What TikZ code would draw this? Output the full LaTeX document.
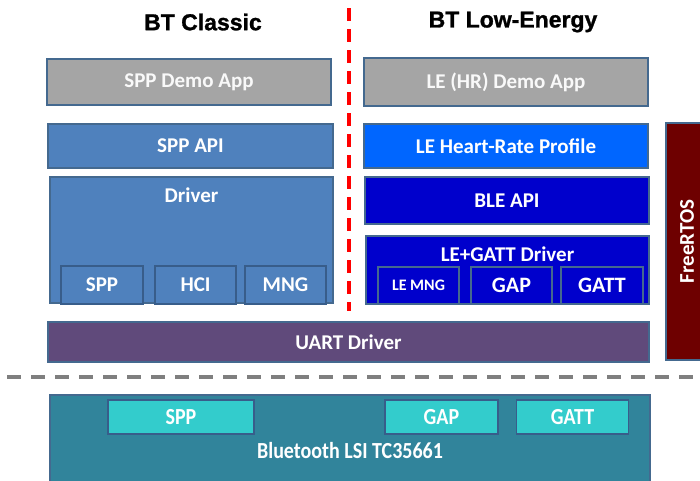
\documentclass[tikz,border=0pt]{standalone}
\usepackage{graphicx}
\usepackage{fontspec}
\setmainfont{Carlito}
\newfontfamily\titlefont{Liberation Sans}[BoldFeatures={FakeBold=1.2}]
\definecolor{bordc}{HTML}{44698F}
\definecolor{subbord}{HTML}{385D8A}
\definecolor{appgray}{HTML}{A5A5A5}
\definecolor{sppblue}{HTML}{4F81BD}
\definecolor{hrblue}{HTML}{0066FF}
\definecolor{bleblue}{HTML}{0000CC}
\definecolor{uartpurple}{HTML}{604A7B}
\definecolor{rtosred}{HTML}{6E0000}
\definecolor{lsiteal}{HTML}{31849B}
\definecolor{lsisub}{HTML}{33CCCC}
\definecolor{sepgray}{HTML}{7F7F7F}
\newcommand{\narrowtxt}[1]{\scalebox{0.87}[1]{#1}}
\begin{document}
\begin{tikzpicture}[x=1pt,y=-1pt,
  blk/.style={draw=bordc, line width=1.8pt, inner sep=0pt, text=white, font=\bfseries\fontsize{21}{23}\selectfont},
  subblk/.style={draw=subbord, line width=1.8pt, inner sep=0pt, text=white, font=\bfseries\fontsize{21}{23}\selectfont},
  ttl/.style={font=\titlefont\bfseries\fontsize{23}{25}\selectfont, text=black},
  lbl/.style={text=white, font=\bfseries\fontsize{21}{23}\selectfont, inner sep=0pt}
]
\useasboundingbox (0,0) rectangle (700,480);
% titles
\node[ttl] (t1) at (203,22) {BT Classic};
\node[ttl] (t2) at (513,22) {BT Low-Energy};
% separators
\coordinate (rtop) at (349,8);
\coordinate (rbot) at (349,311);
\draw[red, line width=3.5pt, dash pattern=on 13pt off 8pt] (rtop) -- (rbot);
\coordinate (gl) at (7,377);
\coordinate (gr) at (705,377);
\draw[sepgray, line width=4pt, dash pattern=on 14pt off 10pt] (gl) -- (gr);
% classic
\node[blk, fill=appgray, text=white!95!gray, minimum width=284pt, minimum height=46pt] (sppapp) at (189,82) {SPP Demo App};
\node[blk, fill=sppblue, minimum width=285pt, minimum height=44pt] (sppapi) at (190.5,146) {SPP API};
\node[blk, fill=sppblue, minimum width=283pt, minimum height=126pt] (drv) at (191.5,240) {};
\node[lbl] (drvl) at (191.5,195) {Driver};
\node[subblk, fill=sppblue, minimum width=82pt, minimum height=38pt] (dspp) at (102,285) {SPP};
\node[subblk, fill=sppblue, minimum width=81pt, minimum height=38pt] (dhci) at (195.5,285) {HCI};
\node[subblk, fill=sppblue, minimum width=81pt, minimum height=38pt] (dmng) at (285.5,285) {MNG};
% LE
\node[blk, fill=appgray, text=white!95!gray, minimum width=284pt, minimum height=48pt] (leapp) at (506,82) {LE (HR) Demo App};
\node[blk, fill=hrblue, minimum width=284pt, minimum height=44pt] (lehr) at (506,146) {LE Heart-Rate Profile};
\node[blk, fill=bleblue, minimum width=284pt, minimum height=47pt] (bleapi) at (507,200.5) {BLE API};
\node[blk, fill=bleblue, minimum width=283pt, minimum height=68pt] (legatt) at (507.5,270) {};
\node[lbl] (legattl) at (507.5,254) {LE+GATT Driver};
\node[subblk, draw=bordc, fill=bleblue, minimum width=81pt, minimum height=37pt, font=\bfseries\fontsize{16}{18}\selectfont] (lemng) at (418.5,285.5) {LE MNG};
\node[subblk, draw=bordc, fill=bleblue, minimum width=81pt, minimum height=37pt, font=\bfseries\fontsize{22}{24}\selectfont] (gap) at (511.5,285.5) {GAP};
\node[subblk, draw=bordc, fill=bleblue, minimum width=82pt, minimum height=37pt, font=\bfseries\fontsize{22}{24}\selectfont] (gatt) at (602,285.5) {GATT};
% UART
\node[blk, fill=uartpurple, minimum width=601pt, minimum height=40pt] (uart) at (348.5,342) {UART Driver};
% FreeRTOS
\node[blk, fill=rtosred, minimum width=44pt, minimum height=237pt] (rtos) at (688,241.5) {};
\node[lbl, rotate=90] (rtosl) at (687,241.5) {FreeRTOS};
% LSI
\node[blk, fill=lsiteal, minimum width=600pt, minimum height=110pt] (lsi) at (350,450) {};
\node[lbl, font=\bfseries\fontsize{23}{25}\selectfont] (lsil) at (350,451) {\narrowtxt{Bluetooth LSI TC35661}};
\node[subblk, fill=lsisub, minimum width=146pt, minimum height=34pt, font=\bfseries\fontsize{23}{25}\selectfont] (lspp) at (181,417) {\narrowtxt{SPP}};
\node[subblk, fill=lsisub, minimum width=113pt, minimum height=34pt, font=\bfseries\fontsize{23}{25}\selectfont] (lgap) at (441.5,417) {\narrowtxt{GAP}};
\node[subblk, fill=lsisub, minimum width=112pt, minimum height=34pt, font=\bfseries\fontsize{23}{25}\selectfont] (lgatt) at (572.5,417) {\narrowtxt{GATT}};
\end{tikzpicture}
\end{document}
